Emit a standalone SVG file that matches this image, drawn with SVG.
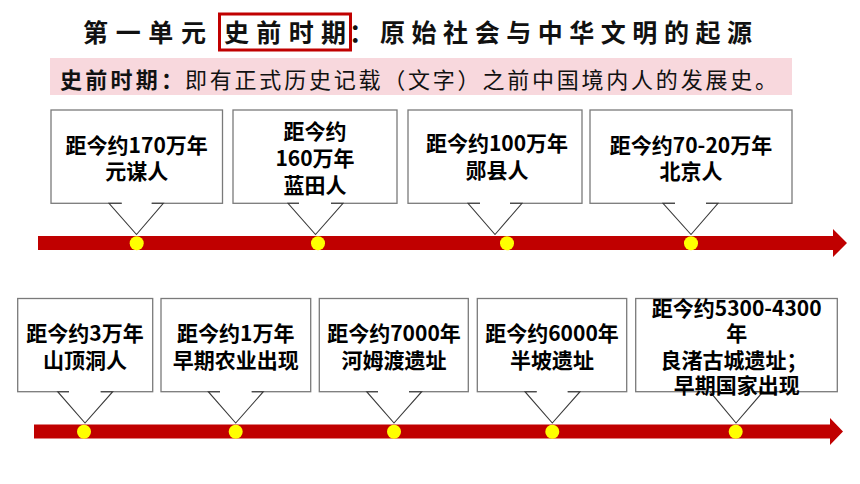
<svg xmlns="http://www.w3.org/2000/svg" width="860" height="484" viewBox="0 0 860 484">
<style>
.box{fill:#ffffff;stroke:#7a7a7a;stroke-width:1.3}
.gap{stroke:#ffffff;stroke-width:3}
.ptr{fill:none;stroke:#3a3a3a;stroke-width:1.1}
.lbl{font-family:"Noto Sans CJK SC","Noto Sans",sans-serif;font-size:21px;font-weight:700;fill:#000;text-anchor:middle}
.title{font-family:"Noto Sans CJK SC",sans-serif;font-size:25px;font-weight:700;fill:#111}
.sub{font-family:"Noto Sans CJK SC",sans-serif;font-size:22px;fill:#111}
.bar{fill:#C00000}
.dot{fill:#FFFF00}
</style>
<rect width="860" height="484" fill="#ffffff"/>
<g id="title">
<text class="title" x="83" y="42" textLength="123" lengthAdjust="spacing">第一单元</text>
<rect x="219.5" y="14" width="131" height="36" fill="none" stroke="#C00000" stroke-width="3"/>
<text class="title" x="224" y="42" textLength="122" lengthAdjust="spacing">史前时期</text>
<text class="title" x="349" y="42">：</text>
<text class="title" x="380" y="42" textLength="372" lengthAdjust="spacing">原始社会与中华文明的起源</text>
</g>
<g id="subtitle">
<rect x="50" y="58" width="742" height="37" fill="#F8D8DD"/>
<text class="sub" x="60" y="88" font-weight="700" textLength="123" lengthAdjust="spacing">史前时期：</text>
<text class="sub" x="185" y="88" textLength="592" lengthAdjust="spacing">即有正式历史记载（文字）之前中国境内人的发展史。</text>
</g>
<g id="connectors">
<polygon class="bar" points="38,236 833,236 833,229 847,243 833,257 833,250 38,250"/>
<polygon class="bar" points="34,424.5 830,424.5 830,418 843,431.5 830,445 830,438.5 34,438.5"/>
<circle class="dot" cx="136.7" cy="243.3" r="7"/>
<circle class="dot" cx="318" cy="243.3" r="7"/>
<circle class="dot" cx="507" cy="243.3" r="7"/>
<circle class="dot" cx="691" cy="243.3" r="7"/>
<circle class="dot" cx="84" cy="431.7" r="7"/>
<circle class="dot" cx="235.7" cy="431.7" r="7"/>
<circle class="dot" cx="394" cy="431.7" r="7"/>
<circle class="dot" cx="552.3" cy="431.7" r="7"/>
<circle class="dot" cx="735.7" cy="431.7" r="7"/>
</g>
<g id="node-yuanmou">
<rect class="box" x="51" y="110" width="171.5" height="93.3"/>
<line class="gap" x1="121.7" y1="203.3" x2="151.7" y2="203.3"/>
<polyline class="ptr" points="121.7,203.3 109,203.3 136.5,234.5 163.3,203.3 151.7,203.3"/>
<text class="lbl" x="136.7" y="153">距今约170万年</text>
<text class="lbl" x="136.7" y="179">元谋人</text>
</g>
<g id="node-lantian">
<rect class="box" x="233" y="110" width="164" height="93.3"/>
<line class="gap" x1="299" y1="203.3" x2="331" y2="203.3"/>
<polyline class="ptr" points="299,203.3 288,203.3 315.5,234.5 343,203.3 331,203.3"/>
<text class="lbl" x="315" y="139">距今约</text>
<text class="lbl" x="315" y="165.5">160万年</text>
<text class="lbl" x="315" y="192.5">蓝田人</text>
</g>
<g id="node-yunxian">
<rect class="box" x="408" y="110" width="174" height="93.3"/>
<line class="gap" x1="480" y1="203.3" x2="510" y2="203.3"/>
<polyline class="ptr" points="480,203.3 468,203.3 495,234.5 522,203.3 510,203.3"/>
<text class="lbl" x="497" y="150.5">距今约100万年</text>
<text class="lbl" x="497" y="177.5">郧县人</text>
</g>
<g id="node-beijing">
<rect class="box" x="590" y="110" width="202" height="93.3"/>
<line class="gap" x1="675" y1="203.3" x2="706" y2="203.3"/>
<polyline class="ptr" points="675,203.3 663,203.3 691,234.5 718,203.3 706,203.3"/>
<text class="lbl" x="691" y="152.5">距今约70-20万年</text>
<text class="lbl" x="691" y="179">北京人</text>
</g>
<g id="node-shandingdong">
<rect class="box" x="17.7" y="298.5" width="135" height="93.2"/>
<line class="gap" x1="69" y1="391.7" x2="100.7" y2="391.7"/>
<polyline class="ptr" points="69,391.7 57.7,391.7 85,423 112.7,391.7 100.7,391.7"/>
<text class="lbl" x="85" y="341">距今约3万年</text>
<text class="lbl" x="85" y="367.5">山顶洞人</text>
</g>
<g id="node-nongye">
<rect class="box" x="161" y="298.5" width="149.7" height="93.2"/>
<line class="gap" x1="220" y1="391.7" x2="251.7" y2="391.7"/>
<polyline class="ptr" points="220,391.7 208.3,391.7 235.7,423 263.3,391.7 251.7,391.7"/>
<text class="lbl" x="235.8" y="341">距今约1万年</text>
<text class="lbl" x="235.8" y="367.5">早期农业出现</text>
</g>
<g id="node-hemudu">
<rect class="box" x="319.3" y="298.5" width="149" height="93.2"/>
<line class="gap" x1="378" y1="391.7" x2="409" y2="391.7"/>
<polyline class="ptr" points="378,391.7 366.7,391.7 394,423 421.7,391.7 409,391.7"/>
<text class="lbl" x="394" y="341">距今约7000年</text>
<text class="lbl" x="394" y="367.5">河姆渡遗址</text>
</g>
<g id="node-banpo">
<rect class="box" x="477.3" y="298.5" width="149.4" height="93.2"/>
<line class="gap" x1="536.7" y1="391.7" x2="567.7" y2="391.7"/>
<polyline class="ptr" points="536.7,391.7 525,391.7 552.3,423 580,391.7 567.7,391.7"/>
<text class="lbl" x="552" y="341">距今约6000年</text>
<text class="lbl" x="552" y="367.5">半坡遗址</text>
</g>
<g id="node-liangzhu">
<rect class="box" x="635.7" y="298.5" width="201.6" height="93.2"/>
<line class="gap" x1="721" y1="391.7" x2="752" y2="391.7"/>
<polyline class="ptr" points="721,391.7 710,391.7 736,423 763,391.7 752,391.7"/>
<text class="lbl" x="736.7" y="315.5">距今约5300-4300</text>
<text class="lbl" x="736.7" y="341">年</text>
<text class="lbl" x="734" y="368">良渚古城遗址；</text>
<text class="lbl" x="736.7" y="392.5">早期国家出现</text>
</g>
</svg>
